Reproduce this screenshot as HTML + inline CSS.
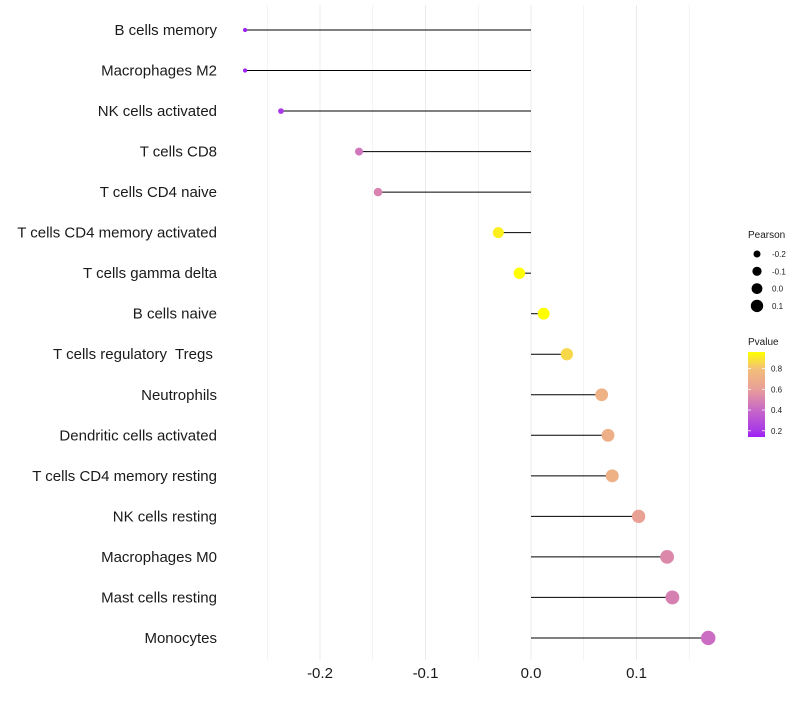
<!DOCTYPE html>
<html><head><meta charset="utf-8"><style>
body{margin:0;background:#fff}
svg{font-family:"Liberation Sans",sans-serif}
</style></head><body>
<svg id="c" width="800" height="700"></svg>
<script>
const categories=["B cells memory","Macrophages M2","NK cells activated","T cells CD8","T cells CD4 naive","T cells CD4 memory activated","T cells gamma delta","B cells naive","T cells regulatory  Tregs ","Neutrophils","Dendritic cells activated","T cells CD4 memory resting","NK cells resting","Macrophages M0","Mast cells resting","Monocytes"];
const pearson=[-0.271,-0.271,-0.237,-0.163,-0.145,-0.031,-0.011,0.012,0.034,0.067,0.073,0.077,0.102,0.129,0.134,0.168];
const pvalue=[0.15,0.15,0.2,0.45,0.5,0.92,0.97,0.96,0.86,0.72,0.7,0.71,0.62,0.52,0.49,0.42];
const xTicks=[-0.2,-0.1,0.0,0.1];
const xTickLabels=["-0.2","-0.1","0.0","0.1"];
const sizeLegend=[-0.2,-0.1,0.0,0.1];
const colorLegend=[0.2,0.4,0.6,0.8];

const NS="http://www.w3.org/2000/svg";
const svg=document.getElementById('c');
function mk(t,a,p){const e=document.createElementNS(NS,t);for(const k in a)e.setAttribute(k,a[k]);(p||svg).appendChild(e);return e;}
const x=v=>531+v*1055;
const y=i=>30+i*40.53;
const pMin=0.14,pMax=0.96;
const sMin=-0.271,sMax=0.168;
function r(v){const t=(v-sMin)/(sMax-sMin);return Math.sqrt(4.5+t*(52-4.5));}
const stops=[[0,[158,30,245]],[0.073,[168,56,232]],[0.317,[200,104,200]],[0.561,[232,158,152]],[0.805,[243,192,120]],[1,[255,255,0]]];
function col(p){let t=Math.max(0,Math.min(1,(p-pMin)/(pMax-pMin)));for(let i=1;i<stops.length;i++){if(t<=stops[i][0]){const a=stops[i-1],b=stops[i];const f=(t-a[0])/(b[0]-a[0]);const c=a[1].map((v,k)=>Math.round(v+(b[1][k]-v)*f));return `rgb(${c})`;}}return 'rgb(255,255,0)';}

for(let v=-0.25;v<=0.16;v+=0.05){
  const g=mk('line',{x1:x(v),x2:x(v),y1:5,y2:660,stroke:'#ebebeb','stroke-width':Math.abs(Math.round(v*100)%10)<1?1:0.6});
  
  
}
xTicks.forEach((v,i)=>{
  const t=mk('text',{x:x(v),y:678,'text-anchor':'middle','font-size':15,fill:'#1a1a1a'});
  t.textContent=xTickLabels[i];
  
  
});
categories.forEach((c,i)=>{
  const t=mk('text',{x:217,y:y(i)+5,'text-anchor':'end','font-size':15,fill:'#1a1a1a','xml:space':'preserve'});
  t.style.whiteSpace='pre';
  t.textContent=c;
  
  
  const l=mk('line',{x1:x(0),x2:x(pearson[i]),y1:y(i),y2:y(i),stroke:'#000','stroke-width':1});
  
  
  const d=mk('circle',{cx:x(pearson[i]),cy:y(i),r:r(pearson[i]),fill:col(pvalue[i])});
  
  
});
const lt=mk('text',{x:748,y:238,'font-size':10,fill:'#1a1a1a'});lt.textContent='Pearson';


sizeLegend.forEach((v,i)=>{
  const cy=254+i*17.3;
  const c=mk('circle',{cx:757,cy:cy,r:[3.5,4.6,5.4,6.2][i],fill:'#000'});
  
  
  const t=mk('text',{x:772,y:cy+3,'font-size':8,fill:'#1a1a1a'});t.textContent=v.toFixed(1);
  
  
});
const ct=mk('text',{x:748,y:345,'font-size':10,fill:'#1a1a1a'});ct.textContent='Pvalue';


const defs=mk('defs',{});
const gr=mk('linearGradient',{id:'g',x1:0,y1:1,x2:0,y2:0},defs);
stops.forEach(s=>mk('stop',{offset:s[0],'stop-color':`rgb(${s[1]})`},gr));
const yc=p=>352+(pMax-p)/(pMax-pMin)*85;
const bar=mk('rect',{x:748,y:352,width:17,height:85,fill:'url(#g)'});


colorLegend.forEach(v=>{
  const tk=mk('line',{x1:748,x2:751,y1:yc(v),y2:yc(v),stroke:'#fff','stroke-width':0.8});
  
  
  const tk2=mk('line',{x1:762,x2:765,y1:yc(v),y2:yc(v),stroke:'#fff','stroke-width':0.8});
  
  
  const t=mk('text',{x:771,y:yc(v)+3,'font-size':8,fill:'#1a1a1a'});t.textContent=v.toFixed(1);
  
  
});
</script>
</body></html>
